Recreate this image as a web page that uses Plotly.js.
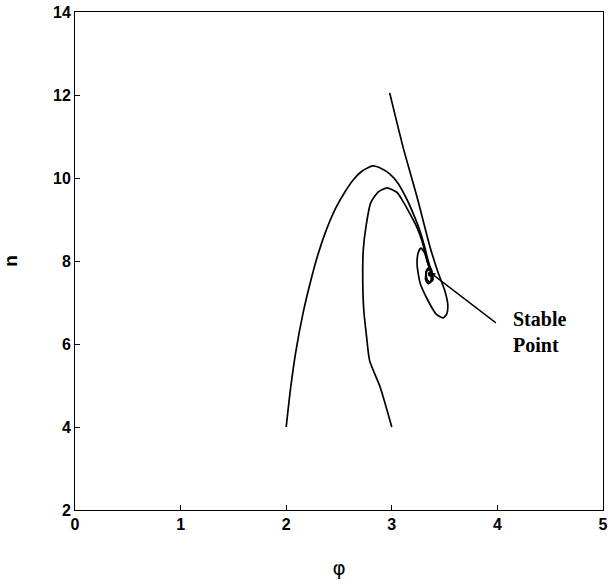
<!DOCTYPE html>
<html>
<head>
<meta charset="utf-8">
<script src="https://cdn.plot.ly/plotly-3.0.1.min.js"></script>
<style>
  html, body { margin: 0; padding: 0; background: #fff; }
  #chart { width: 608px; height: 586px; }
</style>
</head>
<body>
<div id="chart"></div>
<script>
// Trajectory 1: starts at (2, 4)
const phi1 = [2.00, 2.04, 2.09, 2.16, 2.23, 2.30, 2.38, 2.47, 2.56, 2.64, 2.72, 2.82, 2.90, 2.98, 3.06, 3.14, 3.21, 3.27, 3.31, 3.34, 3.37, 3.385, 3.36, 3.33, 3.325, 3.35, 3.375, 3.37, 3.355, 3.36];
const n1   = [4.00, 4.90, 5.80, 6.75, 7.50, 8.15, 8.75, 9.28, 9.68, 9.97, 10.17, 10.29, 10.23, 10.10, 9.87, 9.50, 9.10, 8.70, 8.35, 8.05, 7.78, 7.58, 7.48, 7.56, 7.74, 7.82, 7.76, 7.66, 7.68, 7.73];
// Trajectory 2: starts at (3, 4)
const phi2 = [3.00, 2.89, 2.79, 2.76, 2.735, 2.725, 2.73, 2.755, 2.80, 2.87, 2.955, 3.05, 3.11, 3.18, 3.24, 3.29, 3.32, 3.345, 3.37, 3.37, 3.345, 3.32, 3.33, 3.36, 3.38, 3.37, 3.35, 3.36];
const n2   = [4.00, 4.96, 5.60, 6.20, 6.80, 7.50, 8.27, 8.82, 9.40, 9.66, 9.76, 9.65, 9.42, 9.10, 8.80, 8.45, 8.15, 7.92, 7.70, 7.52, 7.45, 7.55, 7.78, 7.86, 7.75, 7.64, 7.66, 7.73];
// Trajectory 3: starts at (3, 12)
const phi3 = [2.98, 3.106, 3.239, 3.362, 3.44, 3.50, 3.53, 3.52, 3.485, 3.42, 3.34, 3.27, 3.24, 3.25, 3.275, 3.31, 3.34, 3.38, 3.39, 3.36, 3.33, 3.33, 3.36, 3.38, 3.365, 3.35, 3.36];
const n3   = [12.05, 10.75, 9.54, 8.34, 7.71, 7.30, 6.95, 6.72, 6.63, 6.72, 7.06, 7.45, 7.90, 8.20, 8.31, 8.20, 7.95, 7.70, 7.55, 7.48, 7.58, 7.75, 7.80, 7.72, 7.65, 7.70, 7.73];

// Stable point and label position
const stablePhi = 3.36, stableN = 7.73;
const labelTailPhi = 4.00, labelTailN = 6.48;
const labelPhi = 4.13, labelN = 6.30;
const labelText = 'Stable<br>Point';

const xTicks = [0, 1, 2, 3, 4, 5];
const yTicks = [2, 4, 6, 8, 10, 12, 14];

const lineStyle = {color: '#000', width: 1.7, shape: 'spline', smoothing: 0.6};
const traces = [
  {x: phi1, y: n1, mode: 'lines', line: lineStyle, hoverinfo: 'skip'},
  {x: phi2, y: n2, mode: 'lines', line: lineStyle, hoverinfo: 'skip'},
  {x: phi3, y: n3, mode: 'lines', line: lineStyle, hoverinfo: 'skip'}
];

const tickFont = {family: 'Liberation Sans, Arial, sans-serif', size: 16, color: '#000'};

const layout = {
  width: 608, height: 586,
  margin: {l: 75, r: 5, t: 12, b: 76},
  paper_bgcolor: '#fff', plot_bgcolor: '#fff',
  showlegend: false,
  xaxis: {
    range: [0, 5], tickvals: xTicks, ticktext: xTicks.map(v => '<b>' + v + '</b>'),
    ticks: 'inside', ticklen: 5, tickcolor: '#000', tickwidth: 1,
    showline: true, linecolor: '#000', linewidth: 1, mirror: true,
    showgrid: false, zeroline: false, tickfont: tickFont,
    title: {text: 'φ', font: {family: 'DejaVu Sans, sans-serif', size: 20, color: '#000'}, standoff: 28}
  },
  yaxis: {
    range: [2, 14], tickvals: yTicks, ticktext: yTicks.map(v => '<b>' + v + '</b>'),
    ticks: 'inside', ticklen: 5, tickcolor: '#000', tickwidth: 1,
    showline: true, linecolor: '#000', linewidth: 1, mirror: true,
    showgrid: false, zeroline: false, tickfont: tickFont,
    title: {text: '<b>n</b>', font: {family: 'Liberation Sans, Arial, sans-serif', size: 19, color: '#000'}, standoff: 30}
  },
  annotations: [
    {x: stablePhi, y: stableN, xref: 'x', yref: 'y', ax: labelTailPhi, ay: labelTailN, axref: 'x', ayref: 'y',
     text: '', showarrow: true, arrowhead: 2, arrowsize: 0.8, arrowwidth: 1.4, arrowcolor: '#000'},
    {x: labelPhi, y: labelN, xref: 'x', yref: 'y', text: '<b>' + labelText + '</b>', showarrow: false,
     xanchor: 'left', yanchor: 'middle', align: 'left',
     font: {family: 'Liberation Serif, Times New Roman, serif', size: 20, color: '#000'}}
  ]
};

Plotly.newPlot('chart', traces, layout, {staticPlot: true});
</script>
</body>
</html>
